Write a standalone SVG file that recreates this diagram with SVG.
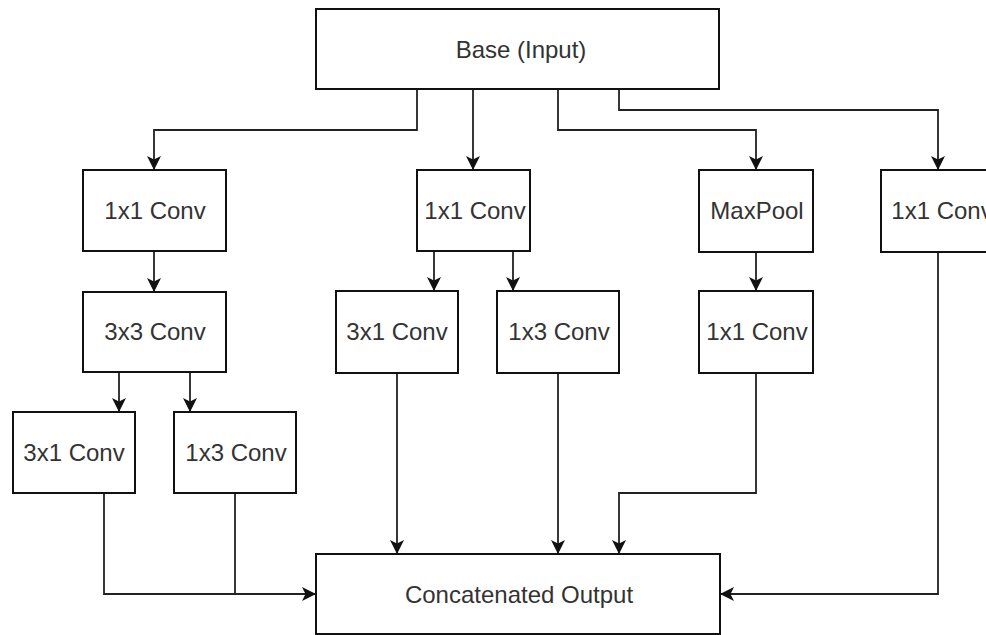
<svg xmlns="http://www.w3.org/2000/svg" width="986" height="635" viewBox="0 0 986 635">
  <style>
    .box { fill: #ffffff; stroke: #111111; stroke-width: 2; }
    .lbl { font-family: "Liberation Sans", Arial, sans-serif; font-size: 24px; fill: #333333; text-anchor: middle; }
    .edge { fill: none; stroke: #222222; stroke-width: 1.8; marker-end: url(#arrow); }
    .line { fill: none; stroke: #222222; stroke-width: 1.8; }
  </style>
  <defs>
    <marker id="arrow" markerWidth="15" markerHeight="14" refX="14" refY="7" orient="auto" markerUnits="userSpaceOnUse">
      <path d="M0,0 L14,7 L0,14 L3.5,7 Z" fill="#111111"/>
    </marker>
  </defs>
  <rect width="986" height="635" fill="#ffffff"/>

  <g id="connectors">
    <!-- from Base to the four branches -->
    <path class="edge" d="M417,89 V130 H154 V170"/>
    <path class="edge" d="M473,89 V170"/>
    <path class="edge" d="M558,89 V130 H756 V170"/>
    <path class="edge" d="M619,89 V110 H938 V170"/>
    <!-- branch 1 -->
    <path class="edge" d="M154,251 V292"/>
    <path class="edge" d="M119,372 V412"/>
    <path class="edge" d="M190,372 V412"/>
    <path class="line" d="M235,493 V594"/>
    <path class="edge" d="M104,493 V594 H316"/>
    <!-- branch 2 -->
    <path class="edge" d="M434,251 V291"/>
    <path class="edge" d="M513,251 V291"/>
    <path class="edge" d="M397,373 V554"/>
    <path class="edge" d="M558,373 V554"/>
    <!-- branch 3 -->
    <path class="edge" d="M756,252 V291"/>
    <path class="edge" d="M756,373 V493 H619 V554"/>
    <!-- branch 4 -->
    <path class="edge" d="M938,252 V594 H720"/>
  </g>

  <g id="base">
    <rect class="box" x="316" y="9" width="403" height="80"/>
    <text class="lbl" x="521" y="58">Base (Input)</text>
  </g>

  <g id="b1-conv1x1">
    <rect class="box" x="83" y="170" width="143" height="81"/>
    <text class="lbl" x="155" y="219">1x1 Conv</text>
  </g>
  <g id="b1-conv3x3">
    <rect class="box" x="83" y="292" width="143" height="80"/>
    <text class="lbl" x="155" y="340">3x3 Conv</text>
  </g>
  <g id="b1-conv3x1">
    <rect class="box" x="13" y="412" width="122" height="81"/>
    <text class="lbl" x="74" y="461">3x1 Conv</text>
  </g>
  <g id="b1-conv1x3">
    <rect class="box" x="174" y="412" width="122" height="81"/>
    <text class="lbl" x="236" y="461">1x3 Conv</text>
  </g>

  <g id="b2-conv1x1">
    <rect class="box" x="417" y="170" width="113" height="81"/>
    <text class="lbl" x="475" y="219">1x1 Conv</text>
  </g>
  <g id="b2-conv3x1">
    <rect class="box" x="336" y="291" width="122" height="82"/>
    <text class="lbl" x="397" y="340">3x1 Conv</text>
  </g>
  <g id="b2-conv1x3">
    <rect class="box" x="497" y="291" width="122" height="82"/>
    <text class="lbl" x="559" y="340">1x3 Conv</text>
  </g>

  <g id="b3-maxpool">
    <rect class="box" x="699" y="170" width="114" height="82"/>
    <text class="lbl" x="757" y="219">MaxPool</text>
  </g>
  <g id="b3-conv1x1">
    <rect class="box" x="699" y="291" width="114" height="82"/>
    <text class="lbl" x="757" y="340">1x1 Conv</text>
  </g>

  <g id="b4-conv1x1">
    <rect class="box" x="881" y="170" width="120" height="82"/>
    <text class="lbl" x="942" y="219">1x1 Conv</text>
  </g>

  <g id="concat">
    <rect class="box" x="316" y="554" width="404" height="80"/>
    <text class="lbl" x="519" y="603">Concatenated Output</text>
  </g>
</svg>
